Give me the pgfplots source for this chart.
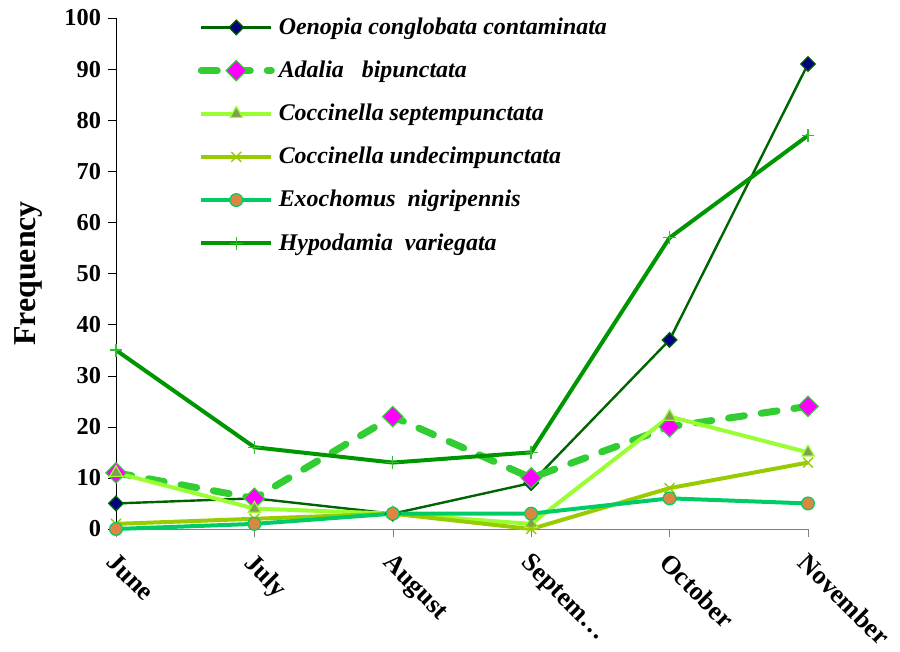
\documentclass[border=0pt]{standalone}
\usepackage{fontspec}
\setmainfont{Liberation Serif}
\usepackage{pgfplots}
\pgfplotsset{compat=1.18}
\definecolor{cOen}{RGB}{0,100,0}
\definecolor{cNavy}{RGB}{0,0,128}
\definecolor{cAda}{RGB}{50,205,50}
\definecolor{cMag}{RGB}{255,0,255}
\definecolor{cSep}{RGB}{153,255,51}
\definecolor{cOlive}{RGB}{128,160,80}
\definecolor{cUnd}{RGB}{153,204,0}
\definecolor{cExo}{RGB}{0,204,102}
\definecolor{cOrange}{RGB}{220,135,65}
\definecolor{cHyp}{RGB}{0,150,0}
\definecolor{cHypM}{RGB}{50,190,50}
\begin{document}
\begin{tikzpicture}
\begin{axis}[
  width=346bp, height=255.5bp, scale only axis,
  xmin=0, xmax=5, ymin=0, ymax=100,
  xtick={0,1,2,3,4,5},
  xticklabels={June,July,August,Septem\dots,October,November},
  ytick={0,10,...,100},
  axis lines*=left,
  x axis line style={draw=gray},
  tick align=outside,
  major tick length=4bp,
  tick style={gray},
  ytick style={black},
  clip=false,
  /pgf/number format/assume math mode=true,
  yticklabel style={font=\fontsize{12.2}{14}\selectfont\bfseries},
  xticklabel style={font=\fontsize{13.2}{15}\selectfont\bfseries, xshift=0.8bp, yshift=-2.3bp, rotate=-45, anchor=north west},
  ylabel={Frequency},
  ylabel shift=4bp,
  ylabel style={font=\fontsize{16}{18}\selectfont\bfseries},
  legend style={at={(0.109,1.017)}, anchor=north west, draw=none, fill=none,
    font=\fontsize{12}{13.5}\selectfont\bfseries\itshape, row sep=7.8bp},
  legend cell align=left,
  legend image code/.code={\draw[mark repeat=2,mark phase=2] plot coordinates {(0bp,0bp)(17.5bp,0bp)(35bp,0bp)};},
]
\addplot[cOen, line width=1.2bp, mark=square*, mark size=2.6bp, mark options={rotate=45, fill=cNavy, draw=cOen, solid, line width=0.6bp}]
  coordinates {(0,5)(1,6)(2,3)(3,9)(4,37)(5,91)};
\addlegendentry{Oenopia conglobata contaminata}
\addplot[cAda, line width=3.5bp, dash pattern=on 8bp off 8.5bp, line cap=round, mark=square*, mark size=3.6bp, mark options={rotate=45, fill=cMag, draw=cAda, solid, line width=0.6bp}]
  coordinates {(0,11)(1,6)(2,22)(3,10)(4,20)(5,24)};
\addlegendentry{Adalia \ \ bipunctata}
\addplot[cSep, line width=2bp, mark=triangle*, mark size=3.6bp, mark options={fill=cOlive, draw=cSep, solid, line width=0.6bp}]
  coordinates {(0,11)(1,4)(2,3)(3,1)(4,22)(5,15)};
\addlegendentry{Coccinella septempunctata}
\addplot[cUnd, line width=2bp, mark=x, mark size=3.5bp, mark options={draw=cUnd, solid, line width=0.7bp}]
  coordinates {(0,1)(1,2)(2,3)(3,0)(4,8)(5,13)};
\addlegendentry{Coccinella undecimpunctata}
\addplot[cExo, line width=2bp, mark=*, mark size=3.2bp, mark options={fill=cOrange, draw=cExo, solid, line width=0.6bp}]
  coordinates {(0,0)(1,1)(2,3)(3,3)(4,6)(5,5)};
\addlegendentry{Exochomus \ nigripennis}
\addplot[cHyp, line width=2bp, mark=+, mark size=3.2bp, mark options={draw=cHypM, solid, line width=0.7bp}]
  coordinates {(0,35)(1,16)(2,13)(3,15)(4,57)(5,77)};
\addlegendentry{Hypodamia \ variegata}
\end{axis}
\pgfresetboundingbox
\path[use as bounding box] (-58bp,-61.5bp) rectangle (392bp,264.5bp);
\end{tikzpicture}
\end{document}
